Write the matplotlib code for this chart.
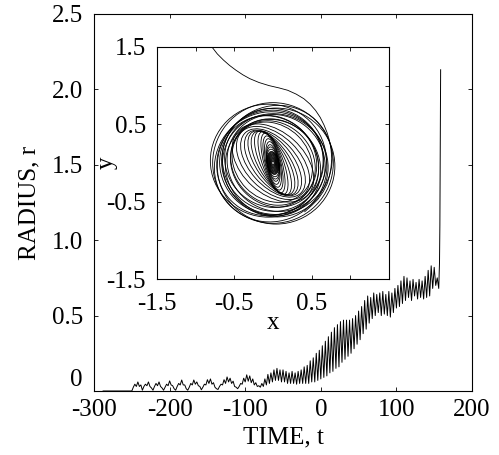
import numpy as np
import matplotlib.pyplot as plt
from matplotlib.patches import Ellipse

plt.rcParams.update({'font.family': 'Liberation Serif', 'font.size': 18,
                     'axes.unicode_minus': False})

# main trace: flat start, then oscillation sampled every 2 time units, then blow-up
time_head = [-288, -252]
radius_head = [0.0, 0.0]

t_start, t_step = -250, 2
radius_osc = [
  0.0, 0.025, 0.045, 0.03, 0.06, 0.03, 0.04, 0.005, 0.03, 0.045,
  0.035, 0.06, 0.03, 0.02, 0.005, 0.03, 0.05, 0.035, 0.06, 0.03,
  0.02, 0.005, 0.025, 0.045, 0.035, 0.067, 0.04, 0.035, 0.015, 0.005,
  0.03, 0.05, 0.04, 0.073, 0.04, 0.04, 0.015, 0.005, 0.025, 0.05,
  0.04, 0.073, 0.045, 0.06, 0.035, 0.03, 0.008, 0.025, 0.045, 0.04,
  0.075, 0.05, 0.08, 0.045, 0.055, 0.025, 0.015, 0.01, 0.03, 0.045,
  0.04, 0.075, 0.05, 0.093, 0.06, 0.085, 0.05, 0.065, 0.03, 0.025,
  0.015, 0.03, 0.05, 0.045, 0.085, 0.06, 0.107, 0.065, 0.1, 0.055,
  0.08, 0.04, 0.055, 0.03, 0.035, 0.025, 0.05, 0.03, 0.08, 0.04,
  0.11, 0.05, 0.12, 0.06, 0.14, 0.07, 0.15, 0.07, 0.14, 0.06,
  0.14, 0.06, 0.13, 0.05, 0.12, 0.05, 0.13, 0.05, 0.12, 0.045,
  0.13, 0.05, 0.14, 0.05, 0.16, 0.05, 0.17, 0.05, 0.2, 0.06,
  0.22, 0.06, 0.25, 0.07, 0.27, 0.08, 0.3, 0.09, 0.33, 0.1,
  0.36, 0.12, 0.39, 0.13, 0.42, 0.15, 0.44, 0.16, 0.46, 0.19,
  0.47, 0.21, 0.47, 0.23, 0.47, 0.25, 0.48, 0.28, 0.5, 0.31,
  0.53, 0.34, 0.56, 0.38, 0.6, 0.41, 0.63, 0.45, 0.62, 0.48,
  0.65, 0.5, 0.64, 0.52, 0.65, 0.5, 0.66, 0.51, 0.64, 0.5,
  0.66, 0.49, 0.65, 0.52, 0.68, 0.55, 0.7, 0.56, 0.73, 0.58,
  0.76, 0.6, 0.75, 0.62, 0.73, 0.6, 0.74, 0.63, 0.72, 0.61,
  0.74, 0.62, 0.73, 0.61, 0.76, 0.62, 0.8, 0.63, 0.83, 0.68,
  0.82, 0.7, 0.75, 0.68,
]
time_tail = [157, 157.5, 158, 158.5]
radius_tail = [0.85, 1.1, 1.6, 2.13]

x_ticks = [-300, -200, -100, 0, 100, 200]
x_ticklabels = ['-300', '-200', '-100', '0', '100', '200']
y_ticks = [0, 0.5, 1.0, 1.5, 2.0, 2.5]
y_ticklabels = ['0', '0.5', '1.0', '1.5', '2.0', '2.5']

# inset: incoming arm, then loops (center x, center y, width, height, angle)
arm_x = [-0.79, -0.72, -0.64, -0.56, -0.48, -0.39, -0.30, -0.18, -0.05, 0.08, 0.19, 0.30, 0.40,
         0.48, 0.55, 0.61, 0.66, 0.70, 0.73, 0.75, 0.76, 0.75, 0.73, 0.70, 0.65, 0.58, 0.50, 0.41]
arm_y = [1.50, 1.41, 1.33, 1.26, 1.20, 1.14, 1.09, 1.04, 1.00, 0.97, 0.94, 0.89, 0.83,
         0.76, 0.68, 0.59, 0.49, 0.39, 0.29, 0.18, 0.06, -0.06, -0.17, -0.27, -0.37, -0.47, -0.55, -0.63]
loop_cx = [0.0, -0.06, 0.04, -0.03, 0.05, -0.04, 0.03, 0.0, -0.05, 0.04, 0.0, -0.03, 0.02, 0.0, -0.01,
           0, 0, 0, 0, 0, 0, 0, 0,
           0, 0, 0, 0, 0, 0, 0, 0, 0, 0, 0, 0, 0, 0, 0, 0, 0, 0, 0, 0, 0]
loop_cy = [0.0, 0.03, -0.04, -0.05, 0.04, 0.0, -0.03, 0.04, -0.03, 0.0, -0.06, 0.02, 0.0, 0.0, 0.01,
           0, 0, 0, 0, 0, 0, 0, 0,
           0, 0, 0, 0, 0, 0, 0, 0, 0, 0, 0, 0, 0, 0, 0, 0, 0, 0, 0, 0, 0]
loop_w = [1.56, 1.50, 1.52, 1.46, 1.44, 1.40, 1.38, 1.34, 1.32, 1.30, 1.28, 1.24, 1.20, 1.16, 1.12,
          1.22, 1.14, 1.06, 1.00, 0.96, 0.92, 0.90, 0.86,
          0.80, 0.72, 0.64, 0.56, 0.48, 0.42, 0.36, 0.30, 0.28, 0.26, 0.24, 0.22, 0.20, 0.18, 0.16,
          0.14, 0.12, 0.10, 0.08, 0.06, 0.04]
loop_h = [1.56, 1.46, 1.50, 1.42, 1.40, 1.34, 1.32, 1.30, 1.24, 1.22, 1.20, 1.14, 1.08, 1.02, 0.95,
          0.80, 0.70, 0.60, 0.52, 0.44, 0.38, 0.32, 0.27,
          0.23, 0.20, 0.18, 0.16, 0.15, 0.15, 0.15, 0.15, 0.15, 0.14, 0.14, 0.13, 0.12, 0.11, 0.10,
          0.09, 0.08, 0.07, 0.06, 0.045, 0.03]
loop_angle = [0, 0, 0, 20, 30, 40, 150, 120, 135, 140, 130, 135, 135, 135, 135,
              138, 135, 132, 128, 124, 120, 115, 110,
              106, 104, 102, 100, 100, 100, 100, 100, 98, 98, 96, 96, 95, 95, 95,
              95, 95, 95, 95, 95, 95]
inset_ticks = [-1.5, -1.0, -0.5, 0.0, 0.5, 1.0, 1.5]
inset_xticklabels = ['-1.5', '', '-0.5', '', '0.5', '', '']
inset_yticklabels = ['-1.5', '', '-0.5', '', '0.5', '', '1.5']

time = np.concatenate([time_head, np.arange(len(radius_osc)) * t_step + t_start, time_tail])
radius = np.concatenate([radius_head, radius_osc, radius_tail])

fig = plt.figure(figsize=(4.99, 4.55), dpi=100)
ax = fig.add_axes([0.1884, 0.1407, 0.7575, 0.8286])
ax.plot(time, radius, color='black', lw=0.7)
ax.set_xlim(-300, 200)
ax.set_ylim(0, 2.5)
ax.set_xticks(x_ticks, x_ticklabels)
ax.set_yticks(y_ticks, y_ticklabels)
ax.tick_params(direction='in', top=True, right=True, length=3, width=0.6)
ax.tick_params(axis='y', pad=8)
ax.tick_params(axis='x', pad=6)
# lift the "0" so it clears the "-300" below it
ax.get_yticklabels()[0].set_verticalalignment('bottom')
ax.set_xlabel('TIME, t', labelpad=4)
ax.set_ylabel('RADIUS, r', labelpad=8)
for s in ax.spines.values():
  s.set_linewidth(0.8)

ins = fig.add_axes([0.3146, 0.3868, 0.465, 0.51])
ins.plot(arm_x, arm_y, color='black', lw=0.6)
for cx, cy, w, h, a in zip(loop_cx, loop_cy, loop_w, loop_h, loop_angle):
  ins.add_patch(Ellipse((cx, cy), w, h, angle=a, fill=False, edgecolor='black', lw=0.6))
ins.set_xlim(-1.5, 1.5)
ins.set_ylim(-1.5, 1.5)
ins.set_xticks(inset_ticks, inset_xticklabels)
ins.set_yticks(inset_ticks, inset_yticklabels)
ins.tick_params(direction='in', top=True, right=True, length=3, width=0.6)
ins.tick_params(axis='y', pad=8)
ins.tick_params(axis='x', pad=10)
ins.set_xlabel('x', labelpad=-2)
ins.set_ylabel('y', labelpad=-8)
for s in ins.spines.values():
  s.set_linewidth(0.8)

plt.savefig('out.png', dpi=100)
